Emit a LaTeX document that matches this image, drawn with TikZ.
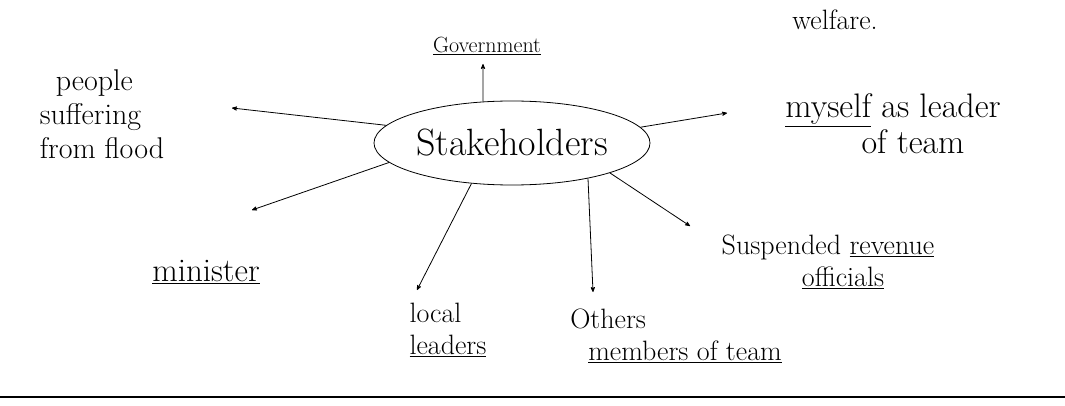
\documentclass[tikz,border=0pt]{standalone}
\usetikzlibrary{arrows,shapes.geometric}

\begin{document}
\begin{tikzpicture}[x=1pt,y=-1pt]
\tikzset{hub/.style = {shape=ellipse,draw,thick,inner sep=0pt,minimum width=276pt,minimum height=84pt,font=\fontsize{38}{42}\selectfont}}
\tikzset{label/.style = {inner sep=1pt,font=\fontsize{28}{32}\selectfont}}
\tikzset{edge/.style = {->,> = stealth',thick}}
\useasboundingbox (0,0) rectangle (1065,406);
% hub
\node[hub] (stake) at (512,143) {Stakeholders};
% stakeholders
\node[label] (gov) at (487,46) {\fontsize{22}{26}\selectfont\underline{Government}};
\node[label] (welfare) at (835,20) {welfare.};
\node[label, font=\fontsize{30}{34}\selectfont, align=left] (people) at (102,114) {\hspace*{16pt}people\\suffering\\from flood};
\node[label, font=\fontsize{33}{36}\selectfont] (minister) at (206,272) {\underline{minister}};
\node[label, align=left] (local) at (448,330) {local\\\underline{leaders}};
\node[label, align=left] (others) at (676,336) {Others\\\hspace*{18pt}\underline{members of team}};
\node[label, align=center] (suspended) at (828,262) {Suspended \underline{revenue}\\\hspace*{30pt}\underline{officials}};
\node[label, font=\fontsize{34}{36}\selectfont, align=center] (myself) at (893,124) {\underline{myself} as leader\\\hspace*{40pt}of team};
% arrow tips
\coordinate (tgov) at (483,64);
\coordinate (tpeople) at (232,108);
\coordinate (tminister) at (252,210);
\coordinate (tlocal) at (417,290);
\coordinate (tothers) at (593,292);
\coordinate (tsusp) at (690,226);
\coordinate (tmyself) at (727,113);
%edges
\draw[edge] (stake.125) -- (tgov);
\draw[edge] (stake.172) -- (tpeople);
\draw[edge] (stake.189) -- (tminister);
\draw[edge] (stake.225) -- (tlocal);
\draw[edge] (stake.335) -- (tothers);
\draw[edge] (stake.343) -- (tsusp);
\draw[edge] (stake.7) -- (tmyself);
% page rule
\coordinate (ruleL) at (0,397);
\coordinate (ruleR) at (1065,397);
\draw[line width=2.5pt] (ruleL) -- (ruleR);
\end{tikzpicture}
\end{document}
